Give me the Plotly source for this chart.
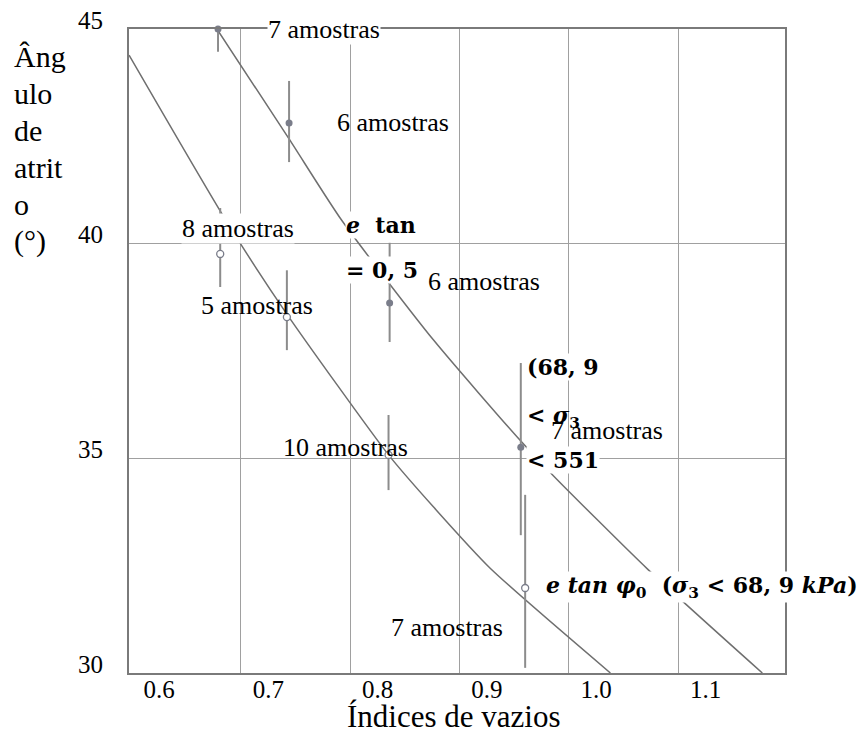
import plotly.graph_objects as go

# Friction angle (degrees) against void ratio, grouped test results
dense_e = [0.654, 0.719, 0.811, 0.931]
dense_phi = [45.0, 42.81, 38.62, 35.26]
dense_err_up = [0.45, 0.98, 1.40, 1.96]
dense_err_down = [0.53, 0.91, 0.91, 2.05]
dense_n = [7, 6, 6, 7]

loose_e = [0.656, 0.717, 0.810, 0.935]
loose_phi = [39.76, 38.29, 35.08, 31.98]
loose_err_up = [1.07, 1.09, 0.93, 2.17]
loose_err_down = [0.77, 0.77, 0.82, 1.86]
loose_n = [8, 5, 10, 7]

# Trend curves through each group
upper_e = [0.653, 0.719, 0.767, 0.851, 0.930, 0.961, 1.047, 1.152]
upper_phi = [45.0, 42.44, 40.55, 37.76, 35.43, 34.59, 32.42, 30.0]
lower_e = [0.5726, 0.661, 0.717, 0.810, 0.851, 0.903, 1.013]
lower_phi = [44.39, 40.55, 38.36, 35.08, 33.87, 32.44, 30.0]

x_ticks = [0.6, 0.7, 0.8, 0.9, 1.0, 1.1]
y_ticks = [30, 35, 40, 45]
x_grid = [0.675, 0.775, 0.875, 0.975, 1.075]

y_title_lines = ["Âng", "ulo", "de", "atrit", "o", "(°)"]
x_title = "Índices de vazios"

# Label anchor positions (data coordinates, left edge / vertical middle)
CLEAR = "rgba(0,0,0,0)"
dense_label_pos = [(0.699, 44.98), (0.762, 42.83), (0.845, 39.11), (0.958, 35.66)]
dense_label_bg = ["white", CLEAR, CLEAR, CLEAR]
loose_label_pos = [(0.620, 40.36), (0.6375, 38.55), (0.7125, 35.26), (0.811, 31.07)]
loose_label_bg = ["white", CLEAR, CLEAR, CLEAR]

math_labels = [
    ("<b><i>e</i>  tan</b>", 0.7702, 40.43, "white"),
    ("<b>= 0, 5</b>", 0.7702, 39.39, "white"),
    ("<b>(68, 9</b>", 0.9358, 37.13, "white"),
    ("<b>< <i>σ</i></b><sub><b>3</b></sub>", 0.9358, 35.96, CLEAR),
    ("<b>< 551</b>", 0.9358, 34.96, "white"),
    ("<b><i>e tan φ</i></b><sub><b>0</b></sub><b>  (<i>σ</i></b><sub><b>3</b></sub>"
     "<b> < 68, 9 <i>kPa</i>)</b>", 0.9532, 32.0, "white"),
]

LINE = "#6f6f6f"
GRID = "#a0a0a0"
MARK = "#7a7d8a"
SERIF = "Liberation Serif"

fig = go.Figure()

fig.add_trace(go.Scatter(x=upper_e, y=upper_phi, mode="lines",
                         line=dict(color=LINE, width=1.5, shape="spline", smoothing=0.6),
                         hoverinfo="skip", showlegend=False))
fig.add_trace(go.Scatter(x=lower_e, y=lower_phi, mode="lines",
                         line=dict(color=LINE, width=1.5, shape="spline", smoothing=0.6),
                         hoverinfo="skip", showlegend=False))

fig.add_trace(go.Scatter(
    x=dense_e, y=dense_phi, mode="markers", cliponaxis=False,
    marker=dict(color=MARK, size=7, line=dict(width=0)),
    error_y=dict(type="data", symmetric=False, array=dense_err_up,
                 arrayminus=dense_err_down, color="#8c8c8c", thickness=2, width=0),
    showlegend=False))
fig.add_trace(go.Scatter(
    x=loose_e, y=loose_phi, mode="markers", cliponaxis=False,
    marker=dict(color="white", size=7, symbol="circle", line=dict(color=MARK, width=1.3)),
    error_y=dict(type="data", symmetric=False, array=loose_err_up,
                 arrayminus=loose_err_down, color="#8c8c8c", thickness=2, width=0),
    showlegend=False))

annotations = []
for n, (x, y), bg in zip(dense_n + loose_n, dense_label_pos + loose_label_pos,
                         dense_label_bg + loose_label_bg):
    annotations.append(dict(x=x, y=y, xref="x", yref="y", text=f"{n} amostras",
                            showarrow=False, xanchor="left", yanchor="middle",
                            bgcolor=bg, borderpad=0,
                            font=dict(family=SERIF, size=26, color="black")))
for text, x, y, bg in math_labels:
    annotations.append(dict(x=x, y=y, xref="x", yref="y", text=text,
                            showarrow=False, xanchor="left", yanchor="middle",
                            bgcolor=bg, borderpad=0,
                            font=dict(family="DejaVu Serif", size=22, color="black")))

# Stacked y-axis title, one word fragment per line
for i, word in enumerate(y_title_lines):
    py = 57 + i * 36.8
    annotations.append(dict(x=-0.1784, y=(673 - py) / 644, xref="paper", yref="paper",
                            text=word, showarrow=False, xanchor="left", yanchor="middle",
                            font=dict(family=SERIF, size=30, color="black")))

annotations.append(dict(x=0.495, y=(673 - 716) / 644, xref="paper", yref="paper", text=x_title,
                        showarrow=False, xanchor="center", yanchor="middle",
                        font=dict(family=SERIF, size=31, color="black")))

fig.update_layout(
    width=863, height=736,
    margin=dict(l=129, r=78, t=29, b=63, autoexpand=False),
    paper_bgcolor="white", plot_bgcolor="white",
    font=dict(family=SERIF, color="black"),
    annotations=annotations,
    xaxis=dict(range=[0.57255, 1.17273], tickvals=x_ticks,
               ticktext=[f"{v:.1f}" for v in x_ticks],
               showgrid=False, zeroline=False, ticks="", automargin=False,
               showline=True, mirror=True, linecolor="#7a7a7a", linewidth=2,
               ticklabelstandoff=-7,
               tickfont=dict(family=SERIF, size=25, color="black"),
               minor=dict(tickvals=x_grid, showgrid=True, gridcolor=GRID, gridwidth=1.2, ticks="")),
    yaxis=dict(range=[30, 45], tickvals=y_ticks, showgrid=True, gridcolor=GRID, gridwidth=1.2,
               zeroline=False, ticks="", automargin=False,
               showline=True, mirror=True, linecolor="#7a7a7a", linewidth=2,
               ticklabelstandoff=19, ticklabelshift=-9,
               tickfont=dict(family=SERIF, size=25, color="black")),
)

fig.write_html("out.html")
